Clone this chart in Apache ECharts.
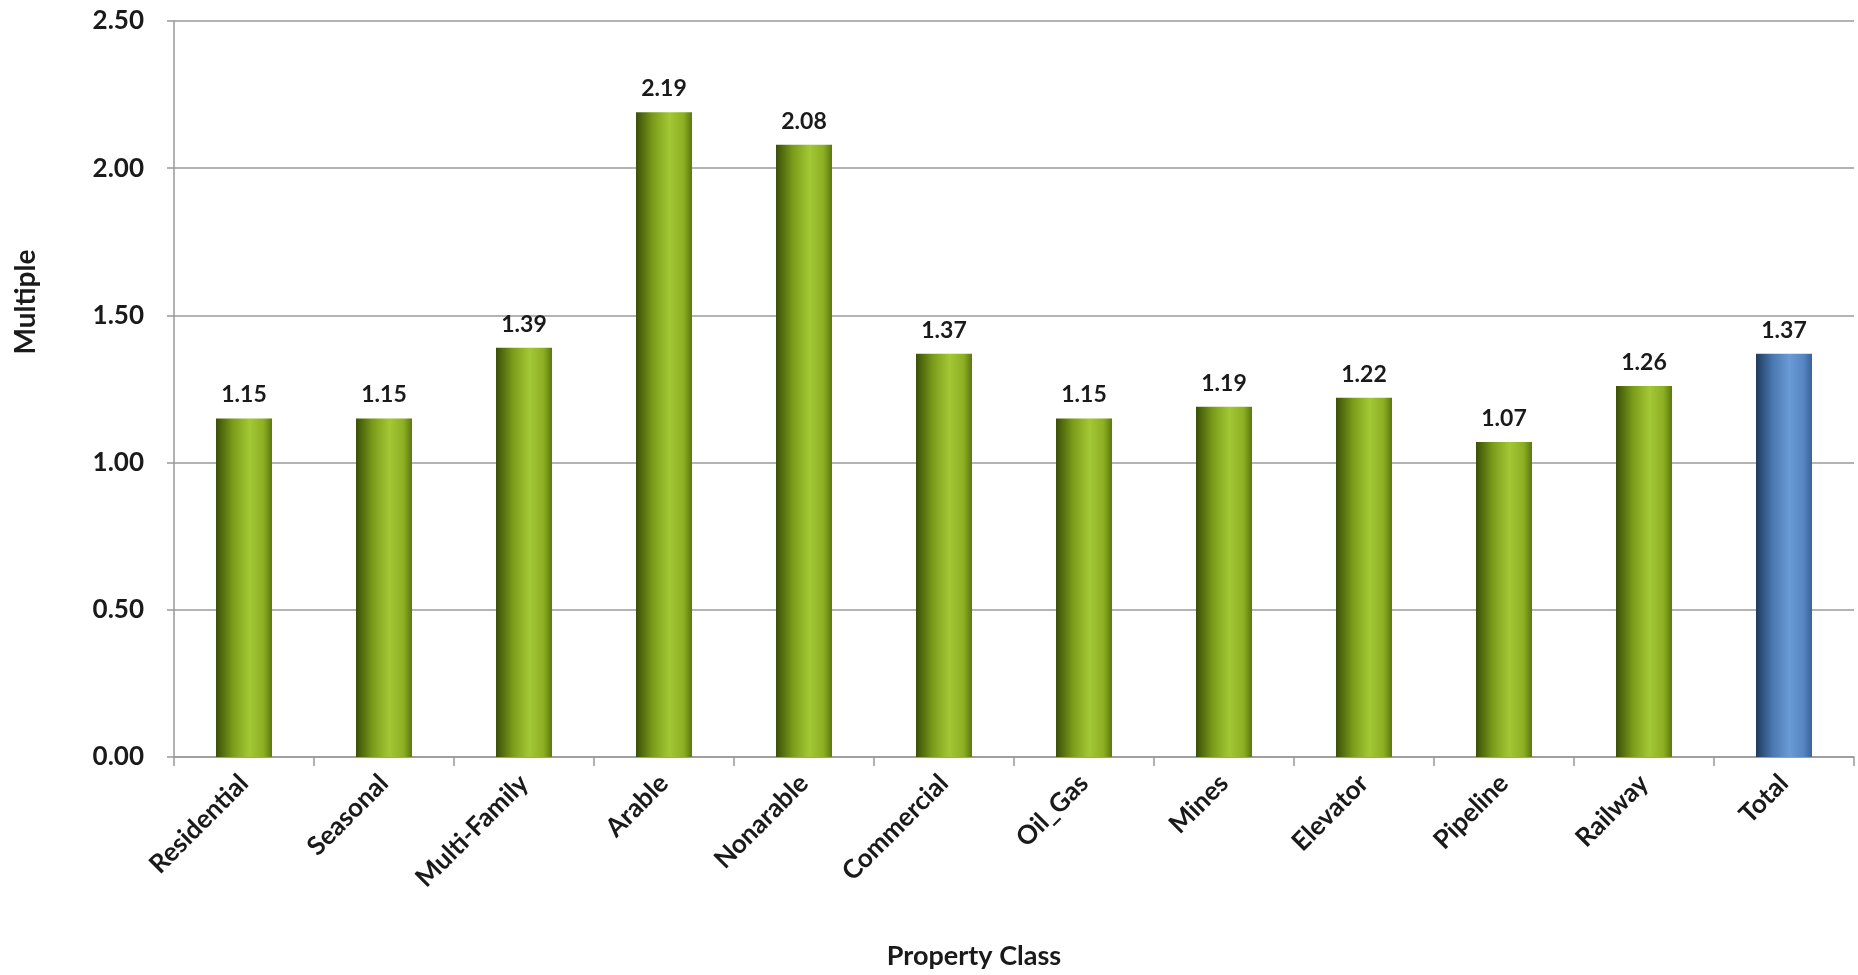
<!DOCTYPE html>
<html>
<head>
<meta charset="utf-8">
<script src="https://cdn.jsdelivr.net/npm/echarts@6/dist/echarts.min.js"></script>
<style>
  html, body { margin: 0; padding: 0; background: #fff; }
  #main { width: 1858px; height: 975px; }
</style>
</head>
<body>
<div id="main"></div>
<script>
var classes = ['Residential', 'Seasonal', 'Multi-Family', 'Arable', 'Nonarable', 'Commercial',
  'Oil_Gas', 'Mines', 'Elevator', 'Pipeline', 'Railway', 'Total'];
var multiples = [1.15, 1.15, 1.39, 2.19, 2.08, 1.37, 1.15, 1.19, 1.22, 1.07, 1.26, 1.37];

var greenBar = new echarts.graphic.LinearGradient(0, 0, 1, 0, [
  {offset: 0, color: '#3a4f07'},
  {offset: 0.3, color: '#7a9c1a'},
  {offset: 0.6, color: '#a3c835'},
  {offset: 0.85, color: '#8caf22'},
  {offset: 1, color: '#5c7710'}
]);
var blueBar = new echarts.graphic.LinearGradient(0, 0, 1, 0, [
  {offset: 0, color: '#1f3b5e'},
  {offset: 0.3, color: '#4a78b0'},
  {offset: 0.6, color: '#6a9bd6'},
  {offset: 0.85, color: '#5585c2'},
  {offset: 1, color: '#3a6398'}
]);

var chart = echarts.init(document.getElementById('main'));

var option = {
  animation: false,
  textStyle: {fontFamily: 'Lato'},
  grid: {left: 174, right: 4, top: 21, bottom: 215},
  xAxis: {
    type: 'category',
    data: classes,
    name: 'Property Class',
    nameLocation: 'middle',
    nameGap: 186,
    nameTextStyle: {fontSize: 27, fontWeight: 'bold', color: '#1a1a1a', padding: [0, 80, 0, 0]},
    axisLine: {lineStyle: {color: '#999', width: 1.5}},
    axisTick: {show: true, alignWithLabel: false, length: 9, lineStyle: {color: '#999', width: 1.5}},
    axisLabel: {rotate: 45, fontSize: 26, fontWeight: 'bold', color: '#1a1a1a', margin: 22}
  },
  yAxis: {
    type: 'value',
    min: 0,
    max: 2.5,
    interval: 0.5,
    name: 'Multiple',
    nameLocation: 'middle',
    nameGap: 134,
    nameTextStyle: {fontSize: 28, fontWeight: 'bold', color: '#1a1a1a', padding: [0, 0, 0, 174]},
    axisLine: {show: true, lineStyle: {color: '#999', width: 1.5}},
    axisTick: {show: true, length: 7, lineStyle: {color: '#999', width: 1.5}},
    axisLabel: {
      fontSize: 26, fontWeight: 'bold', color: '#1a1a1a', margin: 30,
      formatter: function (v) { return v.toFixed(2); }
    },
    splitLine: {lineStyle: {color: '#b3b3b3', width: 2}}
  },
  series: [{
    type: 'bar',
    barWidth: '40%',
    data: multiples.map(function (v, i) {
      return {value: v, itemStyle: {color: classes[i] === 'Total' ? blueBar : greenBar}};
    }),
    label: {
      show: true,
      position: 'top',
      distance: 12,
      fontSize: 23,
      fontWeight: 'bold',
      color: '#1a1a1a',
      formatter: function (p) { return p.value.toFixed(2); }
    }
  }]
};

chart.setOption(option);
</script>
</body>
</html>
